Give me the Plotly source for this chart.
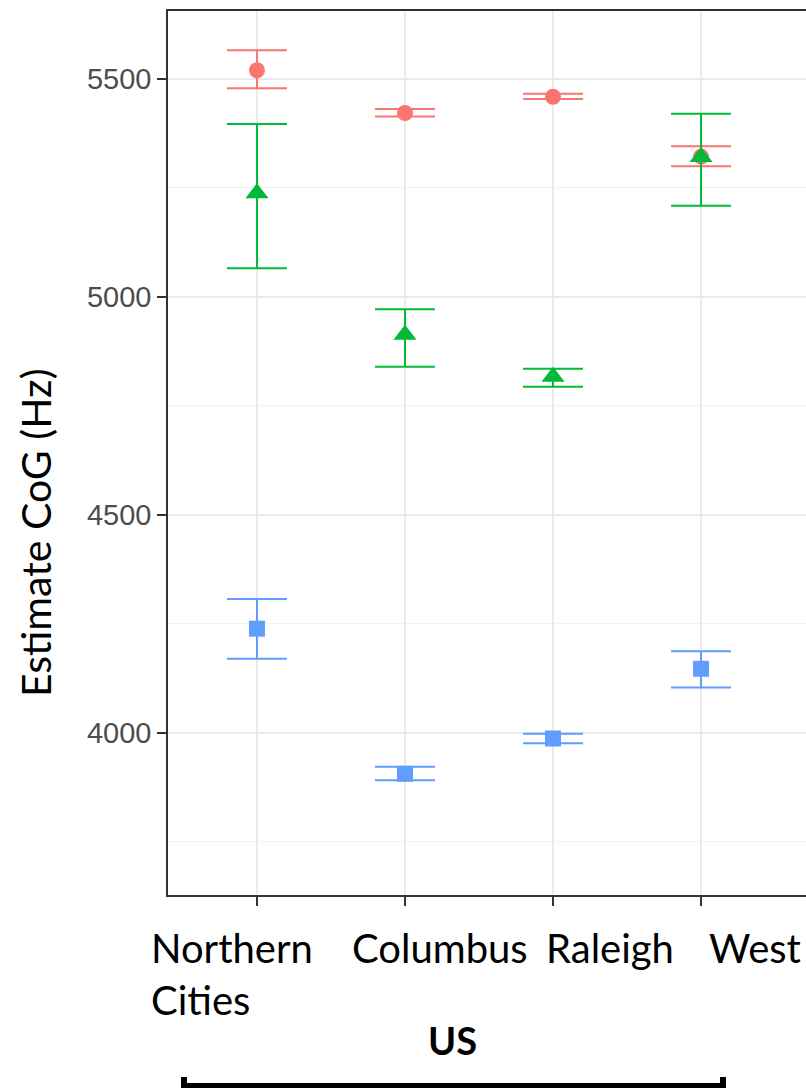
import plotly.graph_objects as go

categories = ["Northern Cities", "Columbus", "Raleigh", "West"]
cat_labels = ["Northern<br>Cities", "Columbus", "Raleigh", "West"]

red_est = [5520, 5422, 5459, 5322]
red_hi = [5566, 5431, 5466, 5346]
red_lo = [5479, 5414, 5454, 5300]

green_est = [5238, 4913, 4817, 5321]
green_hi = [5397, 4972, 4835, 5420]
green_lo = [5066, 4840, 4794, 5209]

blue_est = [4239, 3906, 3987, 4147]
blue_hi = [4307, 3922, 3998, 4187]
blue_lo = [4170, 3891, 3976, 4104]

y_ticks = [4000, 4500, 5000, 5500]

series = [
    (red_est, red_hi, red_lo, "#F8766D", "circle", 16),
    (green_est, green_hi, green_lo, "#00BA38", "triangle-up", 20),
    (blue_est, blue_hi, blue_lo, "#619CFF", "square", 16),
]

fig = go.Figure()
for est, hi, lo, col, sym, size in series:
    fig.add_trace(go.Scatter(
        x=categories, y=est, mode="markers",
        marker=dict(symbol=sym, size=size, color=col, line=dict(width=0)),
        error_y=dict(type="data", symmetric=False,
                     array=[h - e for h, e in zip(hi, est)],
                     arrayminus=[e - l for e, l in zip(est, lo)],
                     color=col, thickness=2, width=30),
        showlegend=False, cliponaxis=False,
    ))

W, H = 806, 1088
L, R, T, B = 168, 0, 11, 193
pw, ph = W - L - R, H - T - B

def px_x(p):
    return (p - L) / pw

def px_y(p):
    return (H - B - p) / ph

fig.update_layout(
    width=W, height=H,
    margin=dict(l=L, r=R, t=T, b=B),
    plot_bgcolor="white", paper_bgcolor="white",
    xaxis=dict(
        type="category", categoryorder="array", categoryarray=categories,
        range=[-0.601, 3.709],
        showticklabels=False, ticks="outside", ticklen=9, tickwidth=1.5,
        tickcolor="#333333",
        showgrid=True, gridcolor="#EBEBEB", gridwidth=2,
        showline=True, linecolor="#333333", linewidth=1.5, mirror=True,
        zeroline=False,
    ),
    yaxis=dict(
        range=[3628, 5656], tickvals=y_ticks,
        ticktext=[str(v) for v in y_ticks],
        tickfont=dict(family="Liberation Sans, Arial", size=29, color="#4D4D4D"),
        ticks="outside", ticklen=9, tickwidth=2, tickcolor="#333333",
        showgrid=True, gridcolor="#EBEBEB", gridwidth=2,
        minor=dict(dtick=250, tick0=3750, showgrid=True, gridcolor="#F2F2F2",
                   gridwidth=1, ticks=""),
        showline=True, linecolor="#333333", linewidth=1.5, mirror=False,
        zeroline=False,
    ),
)

label_shift = [-25, 35, 57, 54]
for cat, lab, sh in zip(categories, cat_labels, label_shift):
    fig.add_annotation(
        x=cat, xref="x", y=0, yref="paper", xanchor="center", yanchor="top",
        xshift=sh, yshift=-27, text=lab, showarrow=False, align="left",
        font=dict(family="Lato", size=40, color="black"),
    )

fig.add_annotation(
    x=px_x(452), y=px_y(1040), xref="paper", yref="paper",
    text="<b>US</b>", showarrow=False, xanchor="center", yanchor="middle",
    font=dict(family="Lato", size=38, color="black"),
)

fig.add_annotation(
    x=px_x(35), y=px_y(533), xref="paper", yref="paper",
    text="Estimate CoG (Hz)", textangle=-90, showarrow=False,
    xanchor="center", yanchor="middle",
    font=dict(family="Lato", size=41, color="black"),
)

fig.add_shape(
    type="path", xref="paper", yref="paper",
    path=(f"M {px_x(184)},{px_y(1077)} L {px_x(184)},{px_y(1086)} "
          f"L {px_x(723)},{px_y(1086)} L {px_x(723)},{px_y(1077)}"),
    line=dict(color="black", width=6),
)

fig.write_html(
    "out.html",
    config={"displayModeBar": False},
    post_script="document.body.style.margin='0';document.body.style.overflow='hidden';",
)
